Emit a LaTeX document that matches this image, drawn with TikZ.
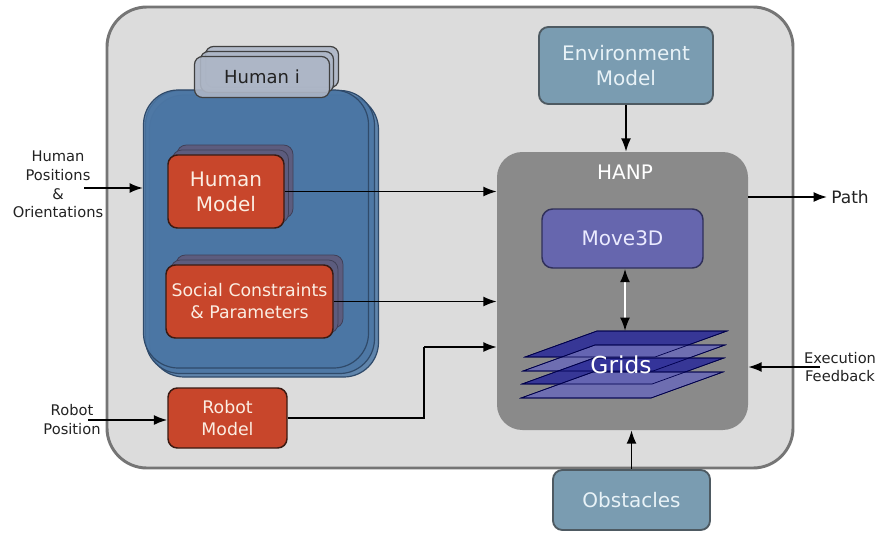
\documentclass[tikz,border=0pt]{standalone}
\usepackage{fontspec}
\setmainfont{DejaVu Sans}
\usetikzlibrary{arrows.meta,calc}
\definecolor{outerfill}{HTML}{DCDCDC}
\definecolor{outerdraw}{HTML}{757575}
\definecolor{bluefill}{HTML}{4B76A4}
\definecolor{bluedraw}{HTML}{2F4A6A}
\definecolor{tabfill}{HTML}{ADB6C6}
\definecolor{redfill}{HTML}{C8462B}
\definecolor{reddraw}{HTML}{3A1A12}
\definecolor{redtext}{HTML}{FBEDE2}
\definecolor{shadowfill}{HTML}{5C5C7E}
\definecolor{hanpfill}{HTML}{8A8A8A}
\definecolor{movefill}{HTML}{6666AE}
\definecolor{movedraw}{HTML}{30305A}
\definecolor{envfill}{HTML}{7A9CB1}
\definecolor{envdraw}{HTML}{4E5A62}
\definecolor{envtext}{HTML}{E8F2F7}
\definecolor{griddark}{HTML}{2E2E98}
\definecolor{gridlight}{HTML}{6B6BB6}
\definecolor{labeltext}{HTML}{222222}
\begin{document}
\begin{tikzpicture}[x=0.75pt,y=-0.75pt,
  outerbox/.style={draw=outerdraw, fill=outerfill, line width=2.2pt, rounded corners=30pt},
  bluebox/.style={draw=bluedraw, fill=bluefill, fill opacity=0.85, line width=0.9pt, rounded corners=26pt},
  tabbox/.style={draw=black!75, fill=tabfill, fill opacity=0.9, line width=0.9pt, rounded corners=6pt, text opacity=1},
  redbox/.style={draw=reddraw, fill=redfill, line width=1.1pt, rounded corners=7pt, align=center, text=redtext, inner sep=0pt},
  shadowbox/.style={draw=shadowfill!70!black, fill=shadowfill, line width=0.6pt, rounded corners=7pt, inner sep=0pt},
  envbox/.style={draw=envdraw, fill=envfill, line width=1.4pt, rounded corners=7pt, align=center, text=envtext, inner sep=0pt},
  hanpbox/.style={fill=hanpfill, rounded corners=19pt, inner sep=0pt},
  movebox/.style={draw=movedraw, fill=movefill, line width=1.1pt, rounded corners=8pt, text=white!92!blue, inner sep=0pt},
  plane/.style={draw=black!70!blue, line width=0.5pt, fill opacity=0.9},
  lbl/.style={align=center, text=labeltext, inner sep=0pt},
  conn/.style={line width=1.3pt, -{Latex[length=10pt,width=7.5pt]}},
  bigfont/.style={font=\fontsize{15}{18.75}\selectfont},
  midfont/.style={font=\fontsize{13}{16.5}\selectfont},
  smallfont/.style={font=\fontsize{11}{13.9}\selectfont}
]
\useasboundingbox (0,0) rectangle (877,532);

% outer frame
\node[outerbox, minimum width=686*0.75pt, minimum height=461*0.75pt] (outer) at (450,237.5) {};

% human i stack
\node[bluebox, minimum width=229*0.75pt, minimum height=282*0.75pt] (blue3) at (264,236) {};
\node[bluebox, minimum width=229*0.75pt, minimum height=283*0.75pt] (blue2) at (260,232) {};
\node[bluebox, minimum width=225*0.75pt, minimum height=278*0.75pt] (blue) at (256,229) {};

\node[tabbox, minimum width=133*0.75pt, minimum height=41*0.75pt] (tab3) at (272,67) {};
\node[tabbox, minimum width=133*0.75pt, minimum height=41*0.75pt] (tab2) at (267,72) {};
\node[tabbox, minimum width=135*0.75pt, minimum height=41*0.75pt, text=labeltext, font=\fontsize{13.5}{16}\selectfont] (tab) at (262,77) {Human i};

% human model
\node[shadowbox, minimum width=116*0.75pt, minimum height=73*0.75pt] (hms2) at (235,181.5) {};
\node[shadowbox, minimum width=116*0.75pt, minimum height=73*0.75pt] (hms1) at (230.5,186.5) {};
\node[redbox, bigfont, minimum width=116*0.75pt, minimum height=73*0.75pt] (hm) at (226,191.5) {Human\\Model};

% social constraints
\node[shadowbox, minimum width=167*0.75pt, minimum height=73*0.75pt] (scs2) at (259.5,291.5) {};
\node[shadowbox, minimum width=167*0.75pt, minimum height=73*0.75pt] (scs1) at (254.5,296.5) {};
\node[redbox, midfont, minimum width=167*0.75pt, minimum height=73*0.75pt] (sc) at (249.5,301.5) {Social Constraints\\\& Parameters};

% robot model
\node[redbox, midfont, minimum width=119*0.75pt, minimum height=60*0.75pt] (rm) at (227.5,418) {Robot\\Model};

% environment, obstacles
\node[envbox, bigfont, minimum width=174*0.75pt, minimum height=77*0.75pt] (env) at (626,65.5) {Environment\\Model};
\node[envbox, bigfont, minimum width=157*0.75pt, minimum height=60*0.75pt] (obs) at (631.5,500) {Obstacles};

% HANP
\node[hanpbox, minimum width=251*0.75pt, minimum height=278*0.75pt] (hanp) at (622.5,291) {};
\node[bigfont, text=white, inner sep=0pt] (hanplbl) at (625,172) {HANP};
\node[movebox, bigfont, minimum width=161*0.75pt, minimum height=59*0.75pt] (move) at (622.5,238.5) {Move3D};

% grids
\fill[plane, fill=griddark]  (525,357) -- (597,331) -- (727,331) -- (655,357) -- cycle;
\fill[plane, fill=gridlight] (523,371) -- (595,345) -- (725,345) -- (653,371) -- cycle;
\fill[plane, fill=griddark]  (522,384) -- (594,358) -- (724,358) -- (652,384) -- cycle;
\fill[plane, fill=gridlight] (521,398) -- (593,372) -- (723,372) -- (651,398) -- cycle;
\draw[plane] (525,357) -- (597,331) -- (727,331) -- (655,357) -- cycle;
\draw[plane] (523,371) -- (595,345) -- (725,345) -- (653,371) -- cycle;
\draw[plane] (522,384) -- (594,358) -- (724,358) -- (652,384) -- cycle;
\draw[plane] (521,398) -- (593,372) -- (723,372) -- (651,398) -- cycle;
\node[font=\fontsize{17.5}{20}\selectfont, text=white, inner sep=0pt] (grids) at (621,365) {Grids};
\coordinate (gridtop) at (625,331);

% double arrow
\draw[white, line width=1.5pt, {Latex[length=10pt,width=7.5pt,color=black]}-{Latex[length=10pt,width=7.5pt,color=black]}] (move.south -| gridtop) -- (gridtop);

% external labels
\node[lbl, smallfont] (hpo) at (58,184.5) {Human\\Positions\\\&\\Orientations};
\coordinate (hpin) at (84,188);
\node[lbl, smallfont] (rpo) at (72,419.5) {Robot\\Position};
\coordinate (rpin) at (88,420);
\node[lbl, font=\fontsize{12.8}{15}\selectfont, anchor=west] (path) at (831,197) {Path};
\node[lbl, smallfont] (exec) at (840,367) {Execution\\Feedback};
\coordinate (exin) at (820,367);
\coordinate (rbend) at (424,347);

% connectors
\draw[conn] (hpin) -- (hpin -| blue.west);
\draw[conn] (rpin) -- (rpin -| rm.west);
\draw[conn] (hm.east) -- (hm.east -| hanp.west);
\draw[conn] (sc.east) -- (sc.east -| hanp.west);
\draw[line width=1.3pt] (rm.east) -| (rbend);
\draw[conn] (rbend) -- (rbend -| hanp.west);
\draw[conn] (env.south) -- (env.south |- hanp.north);
\draw[conn] (obs.north) -- (obs.north |- hanp.south);
\draw[conn] (hanp.east |- path.west) -- ([xshift=-3pt]path.west);
\draw[conn] (exin) -- (exin -| hanp.east);
\end{tikzpicture}
\end{document}
